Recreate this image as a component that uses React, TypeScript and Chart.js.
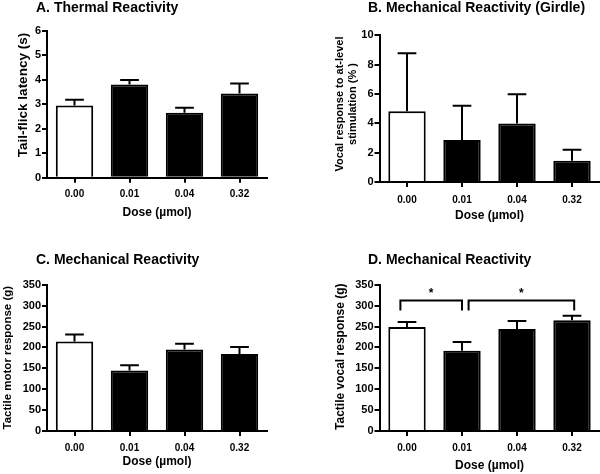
import React, { useEffect, useRef } from "react";
import { Chart, registerables } from "chart.js";

Chart.register(...registerables);

const FONT = "'Liberation Sans', Arial, sans-serif";

// ---- data ----
const doses = ["0.00", "0.01", "0.04", "0.32"];

const thermalMean = [2.95, 3.8, 2.65, 3.44];
const thermalSem = [0.23, 0.19, 0.21, 0.4];

const girdleMean = [4.83, 2.86, 3.99, 1.45];
const girdleSem = [3.95, 2.33, 2.0, 0.75];

const motorMean = [214, 145, 195, 184];
const motorSem = [17, 12, 14, 17];

const vocalMean = [249, 192, 244, 265];
const vocalSem = [12, 21, 19, 11];

// significance brackets for panel D: category positions and value levels
const vocalBrackets = [
  { from: -0.12, to: 1, top: 312, leg: 288, label: "*" },
  { from: 1.12, to: 3.04, top: 312, leg: 288, label: "*" },
];

const barColors = ["#ffffff", "#000000", "#000000", "#000000"];

type Bracket = { from: number; to: number; top: number; leg: number; label: string };

type PanelProps = {
  title: string;
  titleX: number;
  titleY: number;
  yTitle: string[];
  yTitleX: number;
  yTitleY: number;
  yTitleSize: number;
  yMax: number;
  yStep: number;
  mean: number[];
  sem: number[];
  brackets?: Bracket[];
  area: { left: number; right: number; top: number; bottom: number };
  xTickPad: number;
  xTitlePad: number;
  left: number;
  top: number;
};

const W = 300;
const H = 237;

const panelPlugin = {
  id: "panelExtras",
  afterDatasetsDraw(chart: any, _args: any, opts: any) {
    const ctx = chart.ctx;
    const xs = chart.scales.x;
    const ys = chart.scales.y;
    const meta = chart.getDatasetMeta(0);
    const mean: number[] = opts.mean;
    const sem: number[] = opts.sem;
    ctx.save();
    ctx.strokeStyle = "#000";
    ctx.lineWidth = 2;
    meta.data.forEach((bar: any, i: number) => {
      const x = bar.x;
      const y0 = ys.getPixelForValue(mean[i]);
      const y1 = ys.getPixelForValue(mean[i] + sem[i]);
      const half = bar.width / 4;
      ctx.beginPath();
      ctx.moveTo(x, y0);
      ctx.lineTo(x, y1);
      ctx.moveTo(x - half, y1);
      ctx.lineTo(x + half, y1);
      ctx.stroke();
    });
    const brackets: Bracket[] = opts.brackets || [];
    brackets.forEach((b) => {
      const xa = xs.getPixelForValue(b.from);
      const xb = xs.getPixelForValue(b.to);
      const yt = ys.getPixelForValue(b.top);
      const yl = ys.getPixelForValue(b.leg);
      ctx.beginPath();
      ctx.moveTo(xa, yl);
      ctx.lineTo(xa, yt);
      ctx.lineTo(xb, yt);
      ctx.lineTo(xb, yl);
      ctx.stroke();
      ctx.fillStyle = "#000";
      ctx.font = `bold 12px ${FONT}`;
      ctx.textAlign = "center";
      ctx.textBaseline = "middle";
      ctx.fillText(b.label, (xa + xb) / 2, yt - 7);
    });
    ctx.restore();
  },
  afterDraw(chart: any, _args: any, opts: any) {
    const ctx = chart.ctx;
    ctx.save();
    ctx.fillStyle = "#000";
    ctx.font = `bold 14px ${FONT}`;
    ctx.textAlign = "left";
    ctx.textBaseline = "alphabetic";
    ctx.fillText(opts.title, opts.titleX, opts.titleY);
    // y-axis title (rotated)
    ctx.translate(opts.yTitleX, opts.yTitleY);
    ctx.rotate(-Math.PI / 2);
    ctx.font = `bold ${opts.yTitleSize}px ${FONT}`;
    ctx.textAlign = "center";
    ctx.textBaseline = "middle";
    const lines: string[] = opts.yTitle;
    const lh = 13.5;
    lines.forEach((t, i) => {
      ctx.fillText(t, 0, (i - (lines.length - 1) / 2) * lh);
    });
    ctx.restore();
  },
};

function Panel(p: PanelProps) {
  const ref = useRef<HTMLCanvasElement | null>(null);
  useEffect(() => {
    if (!ref.current) return;
    const tickFont = { family: FONT, weight: "bold" as const };
    const chart = new Chart(ref.current, {
      type: "bar",
      data: {
        labels: doses,
        datasets: [
          {
            data: p.mean,
            backgroundColor: barColors,
            borderColor: "#000",
            borderWidth: 2,
            barPercentage: 0.68,
            categoryPercentage: 1,
          },
        ],
      },
      options: {
        responsive: false,
        animation: false,
        devicePixelRatio: 1,
        layout: {
          padding: { top: p.area.top, right: W - p.area.right, left: 0, bottom: 0 },
        },
        plugins: {
          legend: { display: false },
          tooltip: { enabled: false },
          title: { display: false },
          panelExtras: {
            mean: p.mean,
            sem: p.sem,
            brackets: p.brackets,
            title: p.title,
            titleX: p.titleX,
            titleY: p.titleY,
            yTitle: p.yTitle,
            yTitleX: p.yTitleX,
            yTitleY: p.yTitleY,
            yTitleSize: p.yTitleSize,
          },
        } as any,
        scales: {
          x: {
            z: 1,
            offset: true,
            grid: {
              display: true,
              offset: false,
              drawOnChartArea: false,
              drawTicks: true,
              tickLength: 5,
              color: "#000",
              lineWidth: 2,
            },
            border: { display: true, color: "#000", width: 2 },
            ticks: { color: "#000", font: { ...tickFont, size: 10 }, padding: p.xTickPad, maxRotation: 0 },
            title: {
              display: true,
              text: "Dose (\u00b5mol)",
              color: "#000",
              font: { ...tickFont, size: 12 },
              padding: { top: 0, bottom: p.xTitlePad },
            },
            afterFit: (s: any) => {
              s.height = H - p.area.bottom;
            },
          },
          y: {
            min: 0,
            max: p.yMax,
            grid: {
              display: true,
              drawOnChartArea: false,
              drawTicks: true,
              tickLength: 5,
              color: "#000",
              lineWidth: 2,
            },
            border: { display: true, color: "#000", width: 2 },
            ticks: { stepSize: p.yStep, color: "#000", font: { ...tickFont, size: 11 }, padding: 1 },
            afterFit: (s: any) => {
              s.width = p.area.left;
            },
          },
        },
      } as any,
      plugins: [panelPlugin],
    });
    return () => chart.destroy();
  }, []);
  return (
    <canvas
      ref={ref}
      width={W}
      height={H}
      style={{ position: "absolute", left: p.left, top: p.top, width: W, height: H, display: "block" }}
    />
  );
}

export default function App() {
  return (
    <div style={{ position: "absolute", left: 0, top: 0, width: 600, height: 474, background: "#fff" }}>
      <Panel
        title="A. Thermal Reactivity"
        titleX={36}
        titleY={12}
        yTitle={["Tail-flick latency (s)"]}
        yTitleX={23}
        yTitleY={95}
        yTitleSize={13.5}
        yMax={6}
        yStep={1}
        mean={thermalMean}
        sem={thermalSem}
        area={{ left: 47, right: 267, top: 30.7, bottom: 177.7 }}
        xTickPad={6}
        xTitlePad={17}
        left={0}
        top={0}
      />
      <Panel
        title="B. Mechanical Reactivity (Girdle)"
        titleX={68}
        titleY={11.5}
        yTitle={["Vocal response to at-level", "stimulation (% )"]}
        yTitleX={46.5}
        yTitleY={104}
        yTitleSize={11}
        yMax={10}
        yStep={2}
        mean={girdleMean}
        sem={girdleSem}
        area={{ left: 79.5, right: 299.5, top: 35.3, bottom: 182 }}
        xTickPad={7}
        xTitlePad={14}
        left={300}
        top={0}
      />
      <Panel
        title="C. Mechanical Reactivity"
        titleX={36}
        titleY={26.5}
        yTitle={["Tactile motor response (g)"]}
        yTitleX={8}
        yTitleY={120.7}
        yTitleSize={11.5}
        yMax={350}
        yStep={50}
        mean={motorMean}
        sem={motorSem}
        area={{ left: 47, right: 267, top: 47.7, bottom: 194 }}
        xTickPad={6}
        xTitlePad={5}
        left={0}
        top={237}
      />
      <Panel
        title="D. Mechanical Reactivity"
        titleX={68}
        titleY={26.5}
        yTitle={["Tactile vocal response (g)"]}
        yTitleX={41}
        yTitleY={119.7}
        yTitleSize={12}
        yMax={350}
        yStep={50}
        mean={vocalMean}
        sem={vocalSem}
        brackets={vocalBrackets}
        area={{ left: 79.5, right: 299.5, top: 47.7, bottom: 194 }}
        xTickPad={6}
        xTitlePad={1}
        left={300}
        top={237}
      />
    </div>
  );
}
